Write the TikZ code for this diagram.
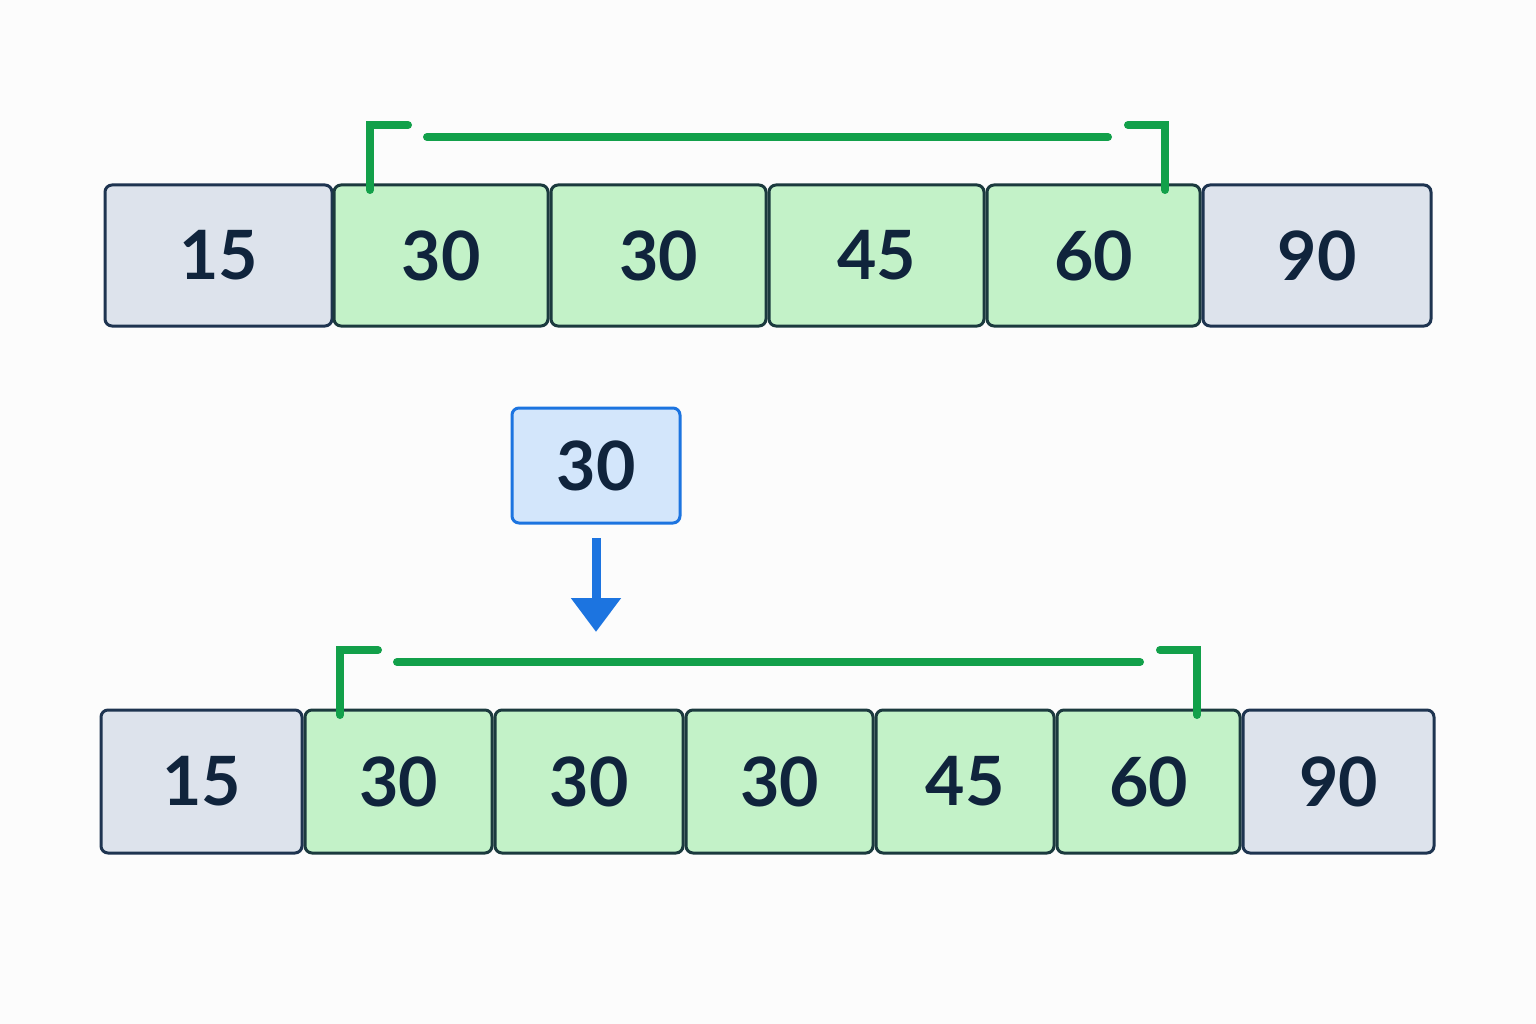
\documentclass[tikz,border=0pt]{standalone}
\usepackage{fontspec}
\setmainfont{Lato}
\usetikzlibrary{arrows.meta}
\definecolor{gfill}{HTML}{DDE3EC}
\definecolor{gline}{HTML}{1E3450}
\definecolor{nfill}{HTML}{C3F2C8}
\definecolor{nline}{HTML}{1B3A3E}
\definecolor{brk}{HTML}{12A04A}
\definecolor{bfill}{HTML}{D3E6FB}
\definecolor{bline}{HTML}{1C74E0}
\definecolor{txt}{HTML}{10243C}
\newcommand\mycell[7]{%
 \pgfmathsetmacro\cx{(#2+#3)/2}\pgfmathsetmacro\cy{-(#4+#5)/2}%
 \pgfmathsetmacro\cw{#3-#2}\pgfmathsetmacro\ch{#5-#4}%
 \node[#6,minimum width=\cw pt,minimum height=\ch pt] (#1) at (\cx pt,\cy pt) {#7};}
\tikzset{
 base/.style={draw,line width=3pt,rounded corners=7pt,inner sep=0pt,text=txt,font=\fontsize{68}{68}\selectfont\bfseries},
 gray/.style={base,fill=gfill,draw=gline},
 grn/.style={base,fill=nfill,draw=nline},
 blu/.style={base,fill=bfill,draw=bline},
 br/.style={draw=brk,line width=8pt,line cap=round},
}
\begin{document}
\begin{tikzpicture}[x=1pt,y=-1pt]
\fill[white!98!gray] (0,0) rectangle (1536,1024);
\useasboundingbox (0,0) rectangle (1536,1024);
% top row
\mycell{t1}{105}{332}{185}{326}{gray}{15}
\mycell{t2}{334}{548}{185}{326}{grn}{30}
\mycell{t3}{551}{766}{185}{326}{grn}{30}
\mycell{t4}{769}{984}{185}{326}{grn}{45}
\mycell{t5}{987}{1200}{185}{326}{grn}{60}
\mycell{t6}{1203}{1431}{185}{326}{gray}{90}
\coordinate (tl) at (370,190); \coordinate (tr) at (1165,190);
\draw[br] (tl) |- (408,125);
\draw[br] (tr) |- (1128,125);
\draw[br] (427,137) -- (1108,137);
% bottom row
\mycell{b1}{101}{302}{710}{853}{gray}{15}
\mycell{b2}{305}{492}{710}{853}{grn}{30}
\mycell{b3}{495}{683}{710}{853}{grn}{30}
\mycell{b4}{686}{873}{710}{853}{grn}{30}
\mycell{b5}{876}{1054}{710}{853}{grn}{45}
\mycell{b6}{1057}{1240}{710}{853}{grn}{60}
\mycell{b7}{1243}{1434}{710}{853}{gray}{90}
\draw[br] (340,715) |- (378,650);
\draw[br] (1197,715) |- (1160,650);
\draw[br] (397,662) -- (1140,662);
% new value
\mycell{nv}{512}{680}{408}{523}{blu}{30}
\coordinate (ae) at (596,632);
\draw[bline,line width=9pt,-{Triangle[width=48pt,length=34pt]}] (596,538) -- (ae);
\end{tikzpicture}
\end{document}
